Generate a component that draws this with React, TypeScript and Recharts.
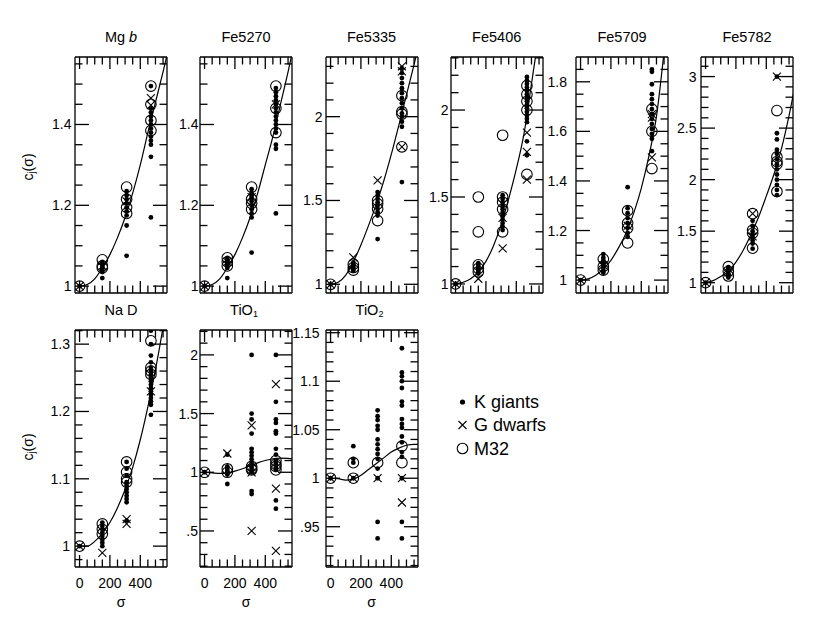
import React from 'react';
import { ComposedChart, XAxis, YAxis, Scatter, Line } from 'recharts';

const FONT = '"Liberation Sans", Arial, Helvetica, sans-serif';

// sigma positions of the four groups and the sample points of the fitted curves
const SIGMA = [0, 150, 310, 470];
const CURVE_SIGMA = [0, 50, 100, 150, 200, 250, 300, 350, 400, 450, 500, 550, 600];
const X_DOMAIN: [number, number] = [-30, 576];
const X_TICKS = [0, 50, 100, 150, 200, 250, 300, 350, 400, 450, 500, 550];
const X_LABELS = [0, 200, 400];

// ---------- Mg b ----------
const mgbGiants = [[1.0], [1.06, 1.055, 1.05, 1.045, 1.04, 1.035, 1.02], [1.235, 1.225, 1.215, 1.205, 1.195, 1.185, 1.175, 1.15, 1.075], [1.495, 1.44, 1.43, 1.42, 1.41, 1.4, 1.39, 1.38, 1.37, 1.36, 1.35, 1.32, 1.17]];
const mgbDwarfs = [[1.0], [1.05], [1.21], [1.465, 1.448]];
const mgbM32 = [[1.0], [1.065, 1.05, 1.045], [1.245, 1.215, 1.195, 1.18], [1.495, 1.45, 1.41, 1.385]];
const mgbCurve = [1.0, 1.004, 1.018, 1.045, 1.078, 1.12, 1.17, 1.23, 1.3, 1.38, 1.455, 1.53, 1.61];
const mgbYLabels = [1, 1.2, 1.4];

// ---------- Fe5270 ----------
const fe5270Giants = [[1.0], [1.07, 1.065, 1.06, 1.055, 1.05, 1.045, 1.02], [1.24, 1.23, 1.22, 1.21, 1.2, 1.19, 1.18, 1.17, 1.083], [1.49, 1.48, 1.47, 1.46, 1.45, 1.44, 1.43, 1.42, 1.41, 1.4, 1.39, 1.38, 1.35, 1.34, 1.18]];
const fe5270Dwarfs = [[1.0], [1.06], [1.22], [1.45]];
const fe5270M32 = [[1.0], [1.07, 1.06, 1.05], [1.245, 1.215, 1.205, 1.19], [1.495, 1.44, 1.38]];
const fe5270Curve = [1.0, 1.004, 1.018, 1.045, 1.078, 1.12, 1.17, 1.23, 1.3, 1.37, 1.45, 1.53, 1.62];
const fe5270YLabels = [1, 1.2, 1.4];

// ---------- Fe5335 ----------
const fe5335Giants = [[1.0], [1.13, 1.12, 1.11, 1.1, 1.09, 1.08], [1.55, 1.53, 1.51, 1.49, 1.47, 1.45, 1.43, 1.41, 1.27], [2.29, 2.26, 2.23, 2.2, 2.17, 2.14, 2.11, 2.08, 2.05, 2.02, 2.0, 1.97, 1.94, 1.61]];
const fe5335Dwarfs = [[1.0], [1.16], [1.62], [2.3, 2.27, 1.82]];
const fe5335M32 = [[1.0], [1.12, 1.1, 1.085], [1.5, 1.48, 1.45, 1.38], [2.125, 2.03, 2.015, 1.82]];
const fe5335Curve = [1.0, 1.012, 1.055, 1.135, 1.235, 1.35, 1.475, 1.615, 1.775, 1.95, 2.13, 2.31, 2.5];
const fe5335YLabels = [1, 1.5, 2];

// ---------- Fe5406 ----------
const fe5406Giants = [[1.0], [1.12, 1.11, 1.1, 1.09, 1.08, 1.07, 1.06], [1.51, 1.49, 1.47, 1.45, 1.43, 1.41, 1.39, 1.37, 1.35, 1.33, 1.31], [2.19, 2.17, 2.15, 2.13, 2.11, 2.09, 2.07, 2.05, 2.03, 2.01, 1.99, 1.97, 1.95, 1.93, 1.82, 1.74]];
const fe5406Dwarfs = [[1.0], [1.03], [1.38, 1.205], [1.87, 1.76, 1.6]];
const fe5406M32 = [[1.0], [1.5, 1.3, 1.11, 1.09, 1.07], [1.855, 1.5, 1.47, 1.43, 1.3], [2.14, 2.09, 2.05, 2.0, 1.63]];
const fe5406Curve = [1.0, 1.01, 1.03, 1.07, 1.13, 1.22, 1.34, 1.49, 1.66, 1.86, 2.15, 2.45, 2.8];
const fe5406YLabels = [1, 1.5, 2];

// ---------- Fe5709 ----------
const fe5709Giants = [[1.0], [1.105, 1.09, 1.08, 1.07, 1.06, 1.05, 1.04, 1.03], [1.375, 1.29, 1.27, 1.25, 1.23, 1.21, 1.19, 1.175], [1.85, 1.84, 1.79, 1.75, 1.73, 1.71, 1.69, 1.67, 1.65, 1.63, 1.61, 1.59, 1.57, 1.52]];
const fe5709Dwarfs = [[1.0], [1.06], [1.22], [1.67, 1.655, 1.495]];
const fe5709M32 = [[1.0], [1.085, 1.055, 1.04], [1.28, 1.23, 1.21, 1.15], [1.69, 1.6, 1.45]];
const fe5709Curve = [1.0, 1.005, 1.02, 1.045, 1.08, 1.13, 1.19, 1.27, 1.37, 1.5, 1.66, 1.92, 2.2];
const fe5709YLabels = [1, 1.2, 1.4, 1.6, 1.8];

// ---------- Fe5782 ----------
const fe5782Giants = [[1.0], [1.15, 1.13, 1.11, 1.09, 1.07, 1.05], [1.6, 1.55, 1.5, 1.47, 1.44, 1.41, 1.38, 1.33], [3.0, 2.45, 2.39, 2.29, 2.25, 2.2, 2.15, 2.1, 2.05, 2.0, 1.95, 1.9, 1.85]];
const fe5782Dwarfs = [[1.0], [1.1], [1.67, 1.45], [3.0]];
const fe5782M32 = [[1.0], [1.155, 1.11, 1.065], [1.67, 1.51, 1.48, 1.335], [2.67, 2.22, 2.175, 2.15, 1.885]];
const fe5782Curve = [1.0, 1.02, 1.06, 1.11, 1.2, 1.32, 1.47, 1.64, 1.84, 2.05, 2.3, 2.62, 3.0];
const fe5782YLabels = [1, 1.5, 2, 2.5, 3];

// ---------- Na D ----------
const nadGiants = [[1.0], [1.035, 1.03, 1.025, 1.02, 1.015, 1.01, 1.005, 1.0], [1.125, 1.115, 1.105, 1.095, 1.09, 1.085, 1.08, 1.075, 1.07, 1.065, 1.038], [1.32, 1.3, 1.283, 1.273, 1.265, 1.26, 1.255, 1.25, 1.245, 1.24, 1.235, 1.23, 1.225, 1.22, 1.215, 1.21, 1.195]];
const nadDwarfs = [[1.0], [0.99], [1.04, 1.033], [1.23]];
const nadM32 = [[1.0], [1.033, 1.025, 1.018], [1.125, 1.11, 1.1, 1.095], [1.305, 1.265, 1.26, 1.255]];
const nadCurve = [1.0, 1.0, 1.007, 1.019, 1.035, 1.057, 1.084, 1.117, 1.158, 1.207, 1.262, 1.325, 1.395];
const nadYLabels = [1, 1.1, 1.2, 1.3];

// ---------- TiO1 ----------
const tio1Giants = [[1.0], [1.15, 1.05, 1.03, 1.01, 1.0, 0.98, 0.9], [2.0, 1.5, 1.45, 1.33, 1.2, 1.17, 1.14, 1.11, 1.08, 1.06, 1.04, 1.02, 1.0, 0.84, 0.815], [2.0, 1.6, 1.45, 1.42, 1.35, 1.33, 1.2, 1.15, 1.1, 1.08, 1.06, 1.04, 1.02, 0.76, 0.69]];
const tio1Dwarfs = [[1.0], [1.16], [1.4, 1.0, 0.5], [1.75, 0.86, 0.33]];
const tio1M32 = [[1.0], [1.03, 1.0], [1.05, 1.03, 1.02], [1.1, 1.07, 1.05, 1.02]];
const tio1Curve = [1.0, 0.995, 0.99, 0.995, 1.01, 1.03, 1.055, 1.08, 1.1, 1.115, 1.12, 1.118, 1.11];
const tio1YLabels = [0.5, 1, 1.5, 2];

// ---------- TiO2 ----------
const tio2Giants = [[1.0], [1.033, 1.02, 1.016, 1.0], [1.07, 1.064, 1.06, 1.054, 1.05, 1.04, 1.035, 1.03, 1.025, 1.02, 1.01, 1.0, 0.955, 0.938], [1.134, 1.109, 1.105, 1.1, 1.093, 1.079, 1.075, 1.061, 1.056, 1.052, 1.043, 1.037, 1.027, 1.022, 1.0, 0.955, 0.938]];
const tio2Dwarfs = [[1.0], [1.0], [1.0], [1.0, 0.975]];
const tio2M32 = [[1.0], [1.016, 1.0], [1.016], [1.033, 1.016]];
const tio2Curve = [1.0, 0.9995, 0.998, 0.999, 1.003, 1.009, 1.015, 1.021, 1.027, 1.031, 1.034, 1.035, 1.035];
const tio2YLabels = [0.95, 1, 1.05, 1.1, 1.15];

const LEGEND_LABELS = ['K giants', 'G dwarfs', 'M32'];

// ---------- helpers ----------
const pts = (groups: number[][]) => groups.flatMap((vals, i) => vals.map((v) => ({ x: SIGMA[i], y: v })));
const curvePts = (ys: number[]) => ys.map((y, i) => ({ x: CURVE_SIGMA[i], y }));
const steps = (a: number, b: number, s: number) => {
  const out: number[] = [];
  for (let i = 0; a + i * s <= b + 1e-9; i++) out.push(+(a + i * s).toFixed(4));
  return out;
};
const fmt = (v: number) => {
  let s = String(+v.toFixed(3));
  if (s.startsWith('0.')) s = s.slice(1);
  return s;
};
const isIn = (list: number[], v: number) => list.some((m) => Math.abs(m - v) < 1e-6);

const AXIS_LINE = { stroke: '#000', strokeWidth: 1.3 };
const MAJOR = 14;
const MINOR = 7.5;
const TICK_W = 1.3;
const TICK_C = '#000';
const tickText = { fontFamily: FONT, fontSize: 14, fill: '#000' };

const xTick = (side: 'top' | 'bottom', labels: boolean) => (props: any) => {
  const { x, y, payload } = props;
  const v = payload.value;
  const major = isIn(X_LABELS, v);
  const len = major ? MAJOR - 2 : MINOR;
  const dir = side === 'bottom' ? -1 : 1;
  return (
    <g>
      <line x1={x} x2={x} y1={y} y2={y + dir * len} stroke={TICK_C} strokeWidth={TICK_W} />
      {labels && major && side === 'bottom' ? (
        <text x={x} y={y + 15.5} textAnchor="middle" dominantBaseline="central" style={tickText}>
          {v}
        </text>
      ) : null}
    </g>
  );
};

const yTick = (side: 'left' | 'right', majors: number[], gap: number) => (props: any) => {
  const { x, y, payload } = props;
  const v = payload.value;
  const major = isIn(majors, v);
  const len = major ? MAJOR : MINOR;
  const dir = side === 'left' ? 1 : -1;
  return (
    <g>
      <line x1={x} x2={x + dir * len} y1={y} y2={y} stroke={TICK_C} strokeWidth={TICK_W} />
      {major && side === 'left' ? (
        <text x={x - gap} y={y} textAnchor="end" dominantBaseline="central" style={tickText}>
          {fmt(v)}
        </text>
      ) : null}
    </g>
  );
};

const Dot = (p: any) => <circle cx={p.cx} cy={p.cy} r={2.4} fill="#000" />;
const Cross = (p: any) => (
  <path
    d={`M${p.cx - 4},${p.cy - 4}L${p.cx + 4},${p.cy + 4}M${p.cx - 4},${p.cy + 4}L${p.cx + 4},${p.cy - 4}`}
    stroke="#000"
    strokeWidth={1.1}
    fill="none"
  />
);
const Ring = (p: any) => <circle cx={p.cx} cy={p.cy} r={5.3} fill="none" stroke="#000" strokeWidth={1.1} />;

type PanelCfg = {
  left: number;
  top: number;
  h: number;
  yDomain: [number, number];
  yLabels: number[];
  yTicks: number[];
  gap: number;
  curve: number[];
  k: number[][];
  g: number[][];
  m: number[][];
  xLabels: boolean;
};

const TOP1 = 57;
const TOP2 = 329.5;
const H1 = 236;
const H2 = 237;

const PANELS: PanelCfg[] = [
  { left: 75, top: TOP1, h: H1, yDomain: [0.983, 1.567], yLabels: mgbYLabels, yTicks: steps(1.0, 1.55, 0.05), gap: 3.5, curve: mgbCurve, k: mgbGiants, g: mgbDwarfs, m: mgbM32, xLabels: false },
  { left: 200, top: TOP1, h: H1, yDomain: [0.983, 1.567], yLabels: fe5270YLabels, yTicks: steps(1.0, 1.55, 0.05), gap: 1.5, curve: fe5270Curve, k: fe5270Giants, g: fe5270Dwarfs, m: fe5270M32, xLabels: false },
  { left: 325.5, top: TOP1, h: H1, yDomain: [0.948, 2.356], yLabels: fe5335YLabels, yTicks: steps(1.0, 2.3, 0.1), gap: 3.5, curve: fe5335Curve, k: fe5335Giants, g: fe5335Dwarfs, m: fe5335M32, xLabels: false },
  { left: 450.7, top: TOP1, h: H1, yDomain: [0.948, 2.305], yLabels: fe5406YLabels, yTicks: steps(1.0, 2.3, 0.1), gap: 2.5, curve: fe5406Curve, k: fe5406Giants, g: fe5406Dwarfs, m: fe5406M32, xLabels: false },
  { left: 576, top: TOP1, h: H1, yDomain: [0.948, 1.9], yLabels: fe5709YLabels, yTicks: steps(1.0, 1.85, 0.05), gap: 9, curve: fe5709Curve, k: fe5709Giants, g: fe5709Dwarfs, m: fe5709M32, xLabels: false },
  { left: 701, top: TOP1, h: H1, yDomain: [0.9, 3.19], yLabels: fe5782YLabels, yTicks: steps(1.0, 3.1, 0.1), gap: 4.5, curve: fe5782Curve, k: fe5782Giants, g: fe5782Dwarfs, m: fe5782M32, xLabels: false },
  { left: 75, top: TOP2, h: H2, yDomain: [0.969, 1.321], yLabels: nadYLabels, yTicks: steps(0.98, 1.32, 0.02), gap: 5, curve: nadCurve, k: nadGiants, g: nadDwarfs, m: nadM32, xLabels: true },
  { left: 200, top: TOP2, h: H2, yDomain: [0.193, 2.212], yLabels: tio1YLabels, yTicks: steps(0.2, 2.2, 0.1), gap: 2, curve: tio1Curve, k: tio1Giants, g: tio1Dwarfs, m: tio1M32, xLabels: true },
  { left: 325.5, top: TOP2, h: H2, yDomain: [0.9085, 1.1528], yLabels: tio2YLabels, yTicks: steps(0.91, 1.15, 0.01), gap: 6.5, curve: tio2Curve, k: tio2Giants, g: tio2Dwarfs, m: tio2M32, xLabels: true },
];

const W = 92;
const PL = 50;
const PR = 12;
const PT = 14;
const PB = 30;

function Panel({ p }: { p: PanelCfg }) {
  return (
    <div style={{ position: 'absolute', left: p.left - PL, top: p.top - PT }}>
      <ComposedChart width={PL + W + PR} height={PT + p.h + PB} margin={{ top: 0, right: 0, bottom: 0, left: 0 }}>
        <XAxis xAxisId="b" orientation="bottom" type="number" dataKey="x" domain={X_DOMAIN} allowDataOverflow ticks={X_TICKS} interval={0} height={PB} tickSize={0} tickMargin={0} tickLine={false} axisLine={AXIS_LINE} tick={xTick('bottom', p.xLabels)} />
        <XAxis xAxisId="t" orientation="top" type="number" dataKey="x" domain={X_DOMAIN} allowDataOverflow ticks={X_TICKS} interval={0} height={PT} tickSize={0} tickMargin={0} tickLine={false} axisLine={AXIS_LINE} tick={xTick('top', false)} />
        <YAxis yAxisId="l" orientation="left" type="number" dataKey="y" domain={p.yDomain} allowDataOverflow ticks={p.yTicks} interval={0} width={PL} tickSize={0} tickMargin={0} tickLine={false} axisLine={AXIS_LINE} tick={yTick('left', p.yLabels, p.gap)} />
        <YAxis yAxisId="r" orientation="right" type="number" dataKey="y" domain={p.yDomain} allowDataOverflow ticks={p.yTicks} interval={0} width={PR} tickSize={0} tickMargin={0} tickLine={false} axisLine={AXIS_LINE} tick={yTick('right', p.yLabels, 0)} />
        <Line xAxisId="b" yAxisId="l" data={curvePts(p.curve)} dataKey="y" type="monotone" stroke="#000" strokeWidth={1.2} dot={false} activeDot={false} isAnimationActive={false} />
        <Scatter xAxisId="b" yAxisId="l" data={pts(p.k)} dataKey="y" shape={Dot} isAnimationActive={false} />
        <Scatter xAxisId="b" yAxisId="l" data={pts(p.g)} dataKey="y" shape={Cross} isAnimationActive={false} />
        <Scatter xAxisId="b" yAxisId="l" data={pts(p.m)} dataKey="y" shape={Ring} isAnimationActive={false} />
      </ComposedChart>
    </div>
  );
}

const centerX = (p: PanelCfg) => p.left + W / 2;

export default function App() {
  const titleStyle = { fontFamily: FONT, fontSize: 14.5, fill: '#000' } as const;
  const labelStyle = { fontFamily: FONT, fontSize: 14, fill: '#000' } as const;
  const legendStyle = { fontFamily: FONT, fontSize: 18, fill: '#000' } as const;
  return (
    <div style={{ position: 'absolute', left: 0, top: 0, width: 830, height: 642, background: '#fff' }}>
      {PANELS.map((p, i) => (
        <Panel key={i} p={p} />
      ))}
      <svg width={830} height={642} style={{ position: 'absolute', left: 0, top: 0, pointerEvents: 'none' }}>
        <text x={centerX(PANELS[0])} y={37} textAnchor="middle" dominantBaseline="central" style={titleStyle}>
          Mg <tspan fontStyle="italic">b</tspan>
        </text>
        <text x={centerX(PANELS[1])} y={37} textAnchor="middle" dominantBaseline="central" style={titleStyle}>Fe5270</text>
        <text x={centerX(PANELS[2])} y={37} textAnchor="middle" dominantBaseline="central" style={titleStyle}>Fe5335</text>
        <text x={centerX(PANELS[3])} y={37} textAnchor="middle" dominantBaseline="central" style={titleStyle}>Fe5406</text>
        <text x={centerX(PANELS[4])} y={37} textAnchor="middle" dominantBaseline="central" style={titleStyle}>Fe5709</text>
        <text x={centerX(PANELS[5])} y={37} textAnchor="middle" dominantBaseline="central" style={titleStyle}>Fe5782</text>
        <text x={centerX(PANELS[6])} y={310} textAnchor="middle" dominantBaseline="central" style={titleStyle}>Na D</text>
        <text x={centerX(PANELS[7]) - 2} y={310} textAnchor="middle" dominantBaseline="central" style={titleStyle}>
          TiO<tspan fontSize={9} dy={4}>1</tspan>
        </text>
        <text x={centerX(PANELS[8]) - 2} y={310} textAnchor="middle" dominantBaseline="central" style={titleStyle}>
          TiO<tspan fontSize={9} dy={4}>2</tspan>
        </text>
        {[167, 447].map((cy, i) => (
          <text key={i} x={28} y={cy} transform={`rotate(-90, 28, ${cy})`} textAnchor="middle" dominantBaseline="central" style={labelStyle}>
            c<tspan fontSize={10} dy={3}>j</tspan>
            <tspan dy={-3}>(σ)</tspan>
          </text>
        ))}
        {[6, 7, 8].map((i) => (
          <text key={i} x={centerX(PANELS[i])} y={602} textAnchor="middle" dominantBaseline="central" style={labelStyle}>
            σ
          </text>
        ))}
        <circle cx={462.5} cy={402} r={2.6} fill="#000" />
        <path d="M458.5,421L466.5,429M458.5,429L466.5,421" stroke="#000" strokeWidth={1.1} />
        <circle cx={462.5} cy={448.5} r={5.3} fill="none" stroke="#000" strokeWidth={1.1} />
        <text x={474} y={402} dominantBaseline="central" style={legendStyle}>{LEGEND_LABELS[0]}</text>
        <text x={474} y={425} dominantBaseline="central" style={legendStyle}>{LEGEND_LABELS[1]}</text>
        <text x={474} y={448.5} dominantBaseline="central" style={legendStyle}>{LEGEND_LABELS[2]}</text>
      </svg>
    </div>
  );
}
